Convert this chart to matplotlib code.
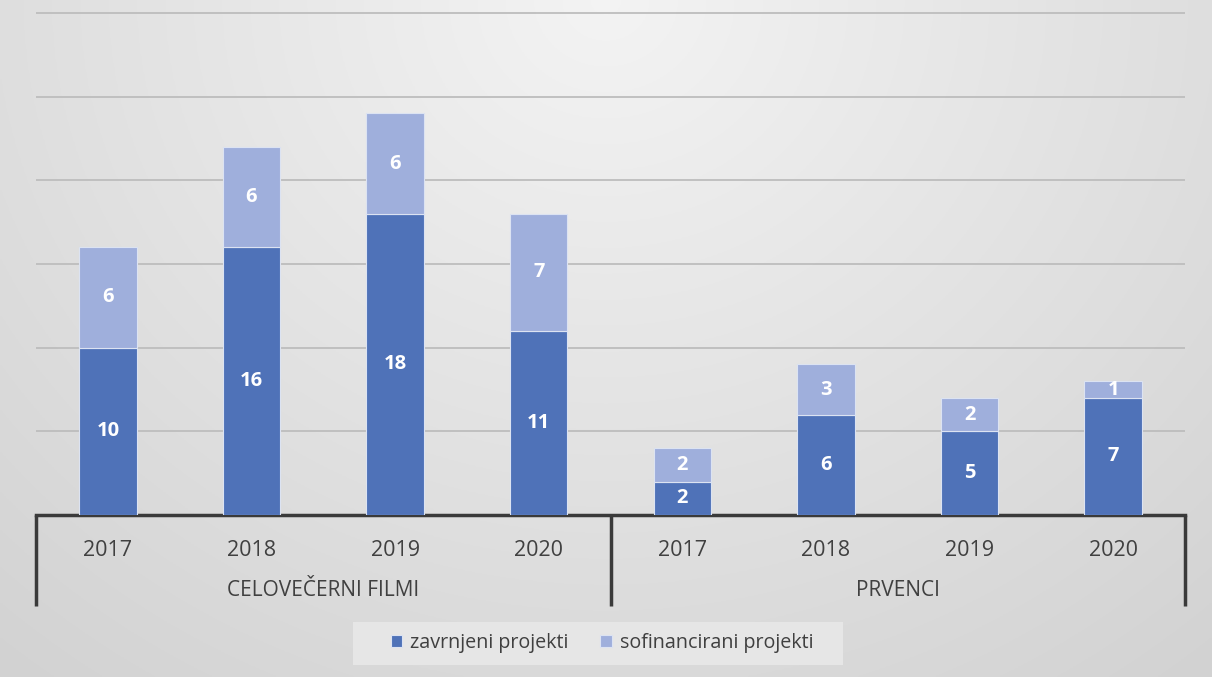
import numpy as np
import matplotlib
matplotlib.use("Agg")
import matplotlib.pyplot as plt
from matplotlib.patches import Rectangle
from matplotlib.transforms import blended_transform_factory

# data
years = ["2017", "2018", "2019", "2020", "2017", "2018", "2019", "2020"]
groups = ["CELOVEČERNI FILMI", "PRVENCI"]
zavrnjeni = [10, 16, 18, 11, 2, 6, 5, 7]
sofinancirani = [6, 6, 6, 7, 2, 3, 2, 1]

dark = "#4F72B8"
light = "#9FAFDC"
txt = "#404040"

plt.rcParams['font.family'] = ['Open Sans', 'DejaVu Sans']

fig = plt.figure(figsize=(12.12, 6.77), dpi=100)

# background gradient, light at top centre, greyer toward edges
bg = fig.add_axes([0, 0, 1, 1], zorder=-10)
gx, gy = np.meshgrid(np.linspace(-1, 1, 400), np.linspace(0, 1, 300))
r = np.sqrt((gx * 0.9) ** 2 + (gy * 1.1) ** 2)
r = np.clip(r / 1.4, 0, 1)
shade = 0.955 - 0.13 * r
bg.imshow(np.dstack([shade] * 3), extent=[0, 1, 0, 1], aspect='auto', origin='upper')
bg.set_axis_off()
# legend box (wider padding than matplotlib's legend frame allows)
bg.add_patch(Rectangle((353 / 1212, 1 - 665 / 677), 490 / 1212, 43 / 677,
                       transform=bg.transAxes, facecolor="#E6E6E6", edgecolor="none"))

# axes slightly taller than 0..30 so the top gridline is not clipped
ax = fig.add_axes([36 / 1212, 162 / 677, 1149 / 1212, 504 / 677])
ax.patch.set_alpha(0)

x = np.arange(len(years))
w = 0.4
b1 = ax.bar(x, zavrnjeni, w, color=dark, edgecolor="#DCE3F2", linewidth=0.8,
            label="zavrnjeni projekti", zorder=3)
b2 = ax.bar(x, sofinancirani, w, bottom=zavrnjeni, color=light, edgecolor="#DCE3F2",
            linewidth=0.8, label="sofinancirani projekti", zorder=3)

for i in range(len(x)):
    ax.text(x[i], zavrnjeni[i] / 2, str(zavrnjeni[i]), ha='center', va='center',
            color='white', fontsize=14.5, fontweight='bold', zorder=4)
    ax.text(x[i], zavrnjeni[i] + sofinancirani[i] / 2, str(sofinancirani[i]),
            ha='center', va='center', color='white', fontsize=14.5,
            fontweight='bold', zorder=4)

ax.set_xlim(-0.5, len(x) - 0.5)
ax.set_ylim(0, 30.12)
ax.set_yticks([5, 10, 15, 20, 25, 30])
ax.yaxis.grid(True, color="#BDBDBD", linewidth=1.3, zorder=0)
ax.set_axisbelow(True)
ax.tick_params(axis='y', left=False, labelleft=False)
ax.set_xticks(x)
ax.set_xticklabels(years, fontsize=15.5, color=txt)
ax.tick_params(axis='x', length=0, pad=18)
for s in ["top", "right", "left"]:
    ax.spines[s].set_visible(False)
ax.spines["bottom"].set_color("#3A3A3A")
ax.spines["bottom"].set_linewidth(2.5)

# group separators and labels
trans = blended_transform_factory(ax.transData, ax.transAxes)
for xv in [-0.5, 3.5, 7.5]:
    ax.plot([xv, xv], [0, -0.18], transform=trans, color="#3A3A3A",
            linewidth=2.5, clip_on=False, solid_capstyle='butt')
ax.text(1.5, -0.149, groups[0], transform=trans, ha='center', va='center',
        fontsize=15, color=txt)
ax.text(5.5, -0.149, groups[1], transform=trans, ha='center', va='center',
        fontsize=15, color=txt)

leg = fig.legend(handles=[b1, b2], loc='center', bbox_to_anchor=(602 / 1212, 1 - 643 / 677),
                 ncol=2, frameon=False, fontsize=14.2, handlelength=0.6, handleheight=0.6,
                 handletextpad=0.4, columnspacing=1.6, borderpad=0.5, borderaxespad=0)
for t in leg.get_texts():
    t.set_color(txt)

fig.savefig("out.png", dpi=100)
